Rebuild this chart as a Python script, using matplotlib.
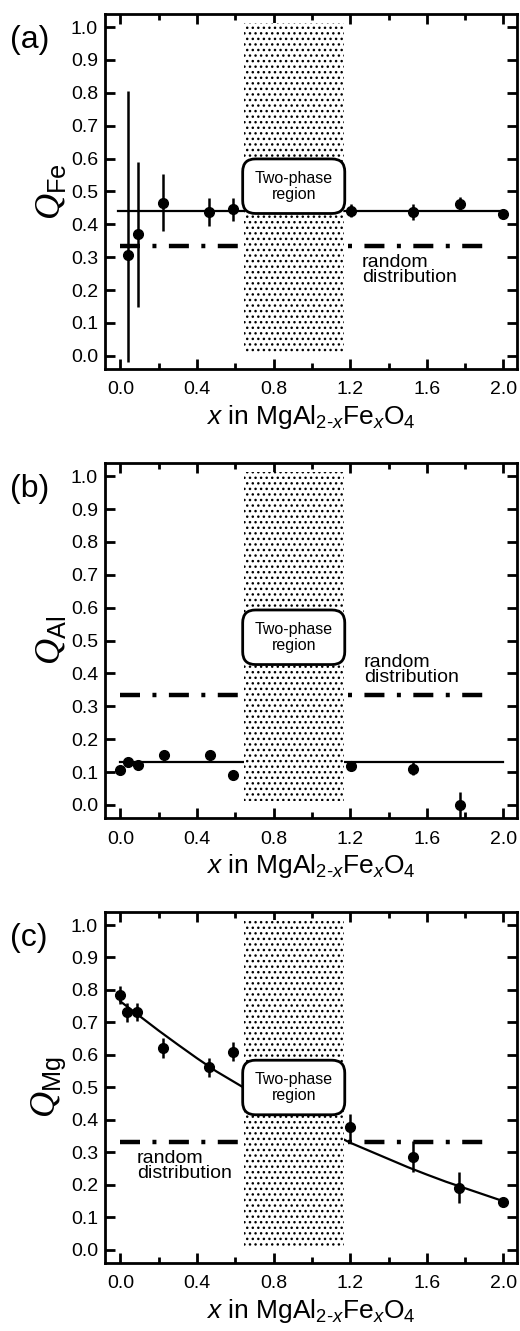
import matplotlib
matplotlib.use("Agg")
import matplotlib.pyplot as plt
from matplotlib.ticker import MultipleLocator, FormatStrFormatter

plt.rcParams["font.family"] = ["Liberation Sans", "DejaVu Sans"]
plt.rcParams["mathtext.fontset"] = "custom"
plt.rcParams["mathtext.rm"] = "Liberation Sans"
plt.rcParams["mathtext.it"] = "Liberation Sans:italic"
plt.rcParams["mathtext.sf"] = "Liberation Sans"
plt.rcParams["mathtext.cal"] = "Liberation Serif:italic"
plt.rcParams["hatch.linewidth"] = 1.0

# Q_Fe, panel (a)
fe_x = [0.04, 0.09, 0.225, 0.465, 0.588, 1.205, 1.528, 1.772, 2.0]
fe_q = [0.307, 0.372, 0.466, 0.438, 0.446, 0.441, 0.437, 0.462, 0.431]
fe_err_lo = [0.327, 0.222, 0.087, 0.042, 0.035, 0.02, 0.025, 0.02, 0.01]
fe_err_hi = [0.500, 0.218, 0.087, 0.042, 0.035, 0.02, 0.025, 0.02, 0.01]
fe_fit = 0.44

# Q_Al, panel (b)
al_x = [0.0, 0.04, 0.09, 0.23, 0.466, 0.59, 1.206, 1.53, 1.775]
al_q = [0.105, 0.131, 0.122, 0.151, 0.151, 0.090, 0.118, 0.110, 0.0]
al_err = [0.0, 0.0, 0.0, 0.0, 0.0, 0.0, 0.0, 0.02, 0.04]
al_fit = 0.13

# Q_Mg, panel (c)
mg_x = [0.0, 0.035, 0.087, 0.224, 0.465, 0.586, 1.2, 1.528, 1.768, 2.0]
mg_q = [0.784, 0.731, 0.733, 0.621, 0.562, 0.610, 0.377, 0.287, 0.192, 0.148]
mg_err = [0.027, 0.03, 0.028, 0.03, 0.03, 0.03, 0.04, 0.048, 0.048, 0.008]
mg_fit_x = [0.0, 0.1, 0.2, 0.3, 0.4, 0.5, 0.6, 0.7, 0.8, 0.9, 1.0,
            1.1, 1.2, 1.3, 1.4, 1.5, 1.6, 1.7, 1.8, 1.9, 2.0]
mg_fit_q = [0.765, 0.72, 0.675, 0.632, 0.59, 0.55, 0.515, 0.48, 0.45, 0.42, 0.39,
            0.36, 0.33, 0.305, 0.28, 0.255, 0.232, 0.21, 0.19, 0.17, 0.15]

random_q = 1.0 / 3.0
two_phase = (0.645, 1.165)

fig = plt.figure(figsize=(5.2, 13.31), dpi=100)

panels = [
    dict(pos=[0.202, 0.7228, 0.792, 0.2667], tag="(a)", sub="Fe",
         box_y=0.516, rand_xy=(1.262, 0.31)),
    dict(pos=[0.202, 0.3854, 0.792, 0.2667], tag="(b)", sub="Al",
         box_y=0.51, rand_xy=(1.27, 0.458)),
    dict(pos=[0.202, 0.0511, 0.792, 0.2637], tag="(c)", sub="Mg",
         box_y=0.5, rand_xy=(0.085, 0.308)),
]

axes = []
for p in panels:
    ax = fig.add_axes(p["pos"])
    axes.append(ax)
    ax.set_xlim(-0.08, 2.07)
    ax.set_ylim(-0.04, 1.04)
    ax.xaxis.set_major_locator(MultipleLocator(0.4))
    ax.xaxis.set_minor_locator(MultipleLocator(0.2))
    ax.yaxis.set_major_locator(MultipleLocator(0.1))
    ax.xaxis.set_major_formatter(FormatStrFormatter("%.1f"))
    ax.yaxis.set_major_formatter(FormatStrFormatter("%.1f"))
    ax.tick_params(which="both", direction="in", top=True, right=True,
                   labelsize=14, width=2)
    ax.tick_params(axis="x", pad=9)
    ax.tick_params(axis="y", pad=5)
    ax.tick_params(which="major", length=7)
    ax.tick_params(which="minor", length=4)
    for s in ax.spines.values():
        s.set_linewidth(2)
    ax.set_xlabel(r"$x$ in MgAl$_{2\text{-}x}$Fe$_x$O$_4$", fontsize=19, labelpad=3)
    ax.set_ylabel(r"$\mathcal{Q}_{\mathsf{%s}}$" % p["sub"], fontsize=26, labelpad=2)

    # random distribution reference line
    ax.plot([0.0, 1.93], [random_q, random_q], color="black", lw=3.2,
            linestyle=(0, (4.5, 2.8, 0.9, 2.8)), dash_capstyle="butt", zorder=2)
    ax.text(p["rand_xy"][0], p["rand_xy"][1], "random\ndistribution",
            fontsize=14, va="top", ha="left", linespacing=0.82, zorder=5)

    # two-phase region covers the lines behind it
    ax.fill_between(two_phase, 0.013, 1.014, facecolor="white", edgecolor="none",
                    hatch="...", linewidth=0, zorder=3)
    ax.text(0.905, p["box_y"], "Two-phase\nregion", fontsize=11.5, ha="center",
            va="center", linespacing=1.05, zorder=6,
            bbox=dict(boxstyle="round,pad=0.75,rounding_size=0.8", facecolor="white",
                      edgecolor="black", linewidth=2))
    fig.text(0.02, p["pos"][1] + p["pos"][3] - 0.008, p["tag"], fontsize=23,
             ha="left", va="top")

# fitted lines
axes[0].plot([-0.01, 2.0], [fe_fit, fe_fit], color="black", lw=1.6, zorder=2)
axes[1].plot([0.0, 2.0], [al_fit, al_fit], color="black", lw=1.6, zorder=2)
axes[2].plot(mg_fit_x, mg_fit_q, color="black", lw=1.6, zorder=2)

axes[0].errorbar(fe_x, fe_q, yerr=[fe_err_lo, fe_err_hi], fmt="o", color="black",
                 ms=7, elinewidth=1.8, capsize=0, zorder=7)
axes[1].errorbar(al_x, al_q, yerr=al_err, fmt="o", color="black",
                 ms=7, elinewidth=1.8, capsize=0, zorder=7)
axes[2].errorbar(mg_x, mg_q, yerr=mg_err, fmt="o", color="black",
                 ms=7, elinewidth=1.8, capsize=0, zorder=7)

fig.savefig("out.png", dpi=100)
